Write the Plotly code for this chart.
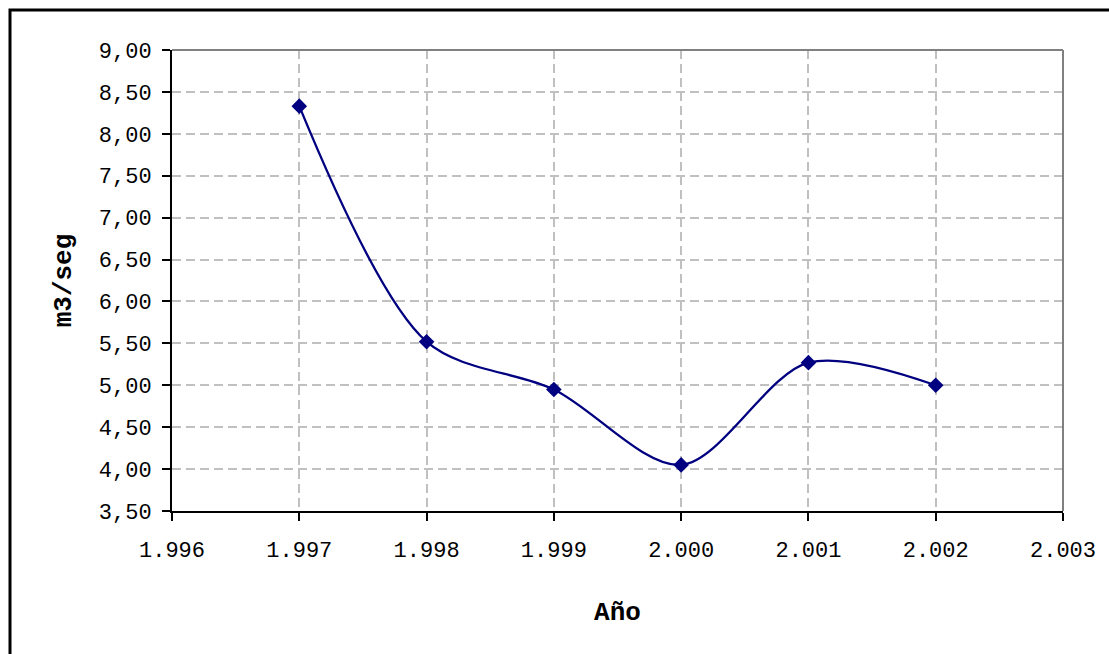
import plotly.graph_objects as go

years = [1997, 1998, 1999, 2000, 2001, 2002]
caudal = [8.33, 5.52, 4.95, 4.05, 5.27, 5.00]
x_ticks = [1996, 1997, 1998, 1999, 2000, 2001, 2002, 2003]
y_ticks = [3.5, 4.0, 4.5, 5.0, 5.5, 6.0, 6.5, 7.0, 7.5, 8.0, 8.5, 9.0]

NAVY = "#000080"
FONT = "Liberation Mono, Courier New, monospace"

fig = go.Figure()
fig.add_trace(go.Scatter(
    x=years, y=caudal, mode="lines+markers",
    line=dict(color=NAVY, width=2.3, shape="spline", smoothing=0.9),
    marker=dict(symbol="diamond", size=12, color=NAVY),
    showlegend=False,
))

axis_common = dict(
    showline=True, linecolor="black", linewidth=2,
    ticks="outside", ticklen=8, tickwidth=2, tickcolor="black",
    showgrid=True, gridcolor="#c0c0c0", gridwidth=2, griddash="9px,5px",
    zeroline=False,
    tickfont=dict(family=FONT, size=22, color="black"),
)

fig.update_xaxes(
    range=[1996, 2003], tickvals=x_ticks, tickformat=",d",
    title=dict(text="<b>Año</b>", font=dict(family=FONT, size=26, color="black"), standoff=38),
    ticklabelstandoff=10,
    **axis_common,
)
fig.update_yaxes(
    range=[3.5, 9.0], tickvals=y_ticks, tickformat=".2f",
    title=dict(text="<b>m3/seg</b>", font=dict(family=FONT, size=26, color="black"), standoff=20),
    ticklabelstandoff=6,
    **axis_common,
)

fig.update_layout(
    width=1109, height=654,
    margin=dict(l=172, r=46, t=50, b=143),
    paper_bgcolor="white", plot_bgcolor="white",
    separators=",.",
    shapes=[
        # plot-area gray border (top and right)
        dict(type="line", xref="paper", yref="paper", x0=0, x1=1, y0=1, y1=1,
             line=dict(color="#808080", width=2), layer="above"),
        dict(type="line", xref="paper", yref="paper", x0=1, x1=1, y0=0, y1=1,
             line=dict(color="#808080", width=2), layer="above"),
        # outer chart border
        dict(type="rect", xref="paper", yref="paper",
             x0=(10 - 172) / 891, x1=(1120 - 172) / 891,
             y0=(511 - 670) / 461, y1=(511 - 10) / 461,
             line=dict(color="black", width=3), fillcolor="rgba(0,0,0,0)", layer="above"),
    ],
)

fig.write_html("out.html")
